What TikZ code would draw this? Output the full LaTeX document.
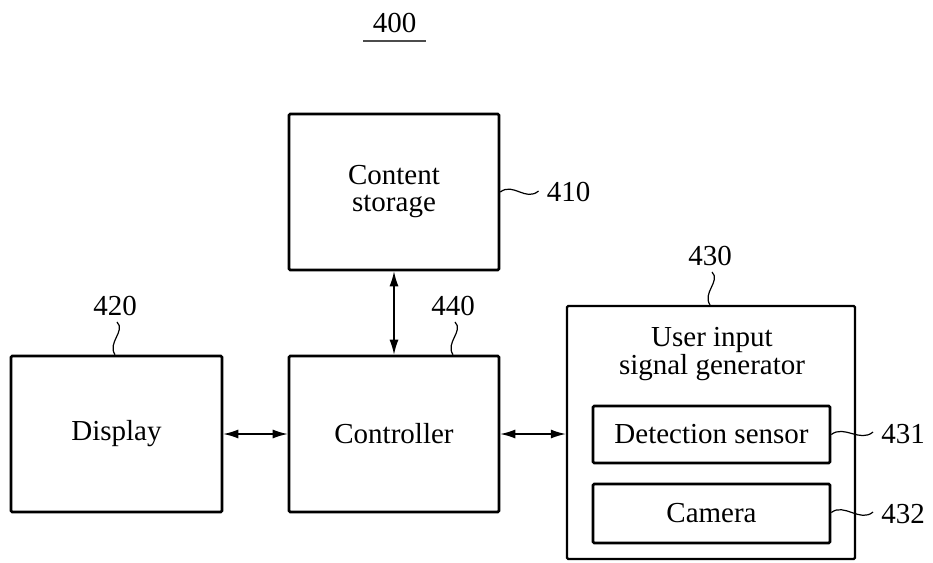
\documentclass[tikz,border=0pt]{standalone}
\usepackage{fontspec}
\setmainfont{Liberation Serif}
\usetikzlibrary{arrows.meta,calc}
\begin{document}
\begin{tikzpicture}[x=1pt,y=-1pt,
  box/.style={draw, line width=2.6pt, rounded corners=1.2pt, inner sep=0pt},
  txt/.style={font=\fontsize{29}{27}\selectfont, align=center},
  lbl/.style={font=\fontsize{29}{29}\selectfont, inner sep=0pt},
  conn/.style={line width=1.4pt, {Latex[length=15pt,width=9pt]}-{Latex[length=15pt,width=9pt]}},
  lead/.style={line width=1.2pt}]
\useasboundingbox (0,0) rectangle (933,562);

% boxes
\node[box, txt, minimum width=210pt, minimum height=156pt] (cs) at (394,192) {Content\\storage};
\node[box, txt, minimum width=211pt, minimum height=156pt] (disp) at (116.5,434) {Display};
\node[box, txt, minimum width=210pt, minimum height=156pt] (ctl) at (394,434) {Controller};
\node[box, line width=2.3pt, minimum width=288pt, minimum height=253pt] (uisg) at (711,432.5) {};
\node[txt, font=\fontsize{29}{28}\selectfont, inner sep=0pt] (uisgt) at (712,354) {User input\\signal generator};
\node[box, txt, minimum width=237pt, minimum height=57pt] (ds) at (711.5,434.5) {Detection sensor};
\node[box, txt, minimum width=237pt, minimum height=59pt] (cam) at (711.5,513.5) {Camera};

% connectors
\draw[conn] (cs.south) -- (ctl.north);
\draw[conn] (disp.east) -- (ctl.west);
\draw[conn] (ctl.east) -- (ctl.east -| uisg.west);

% title
\node[lbl] (l400) at (394.5,23) {400};
\coordinate (u1) at (363,41);
\coordinate (u2) at (426,41);
\draw[line width=1.6pt, black!70] (u1) -- (u2);

% reference labels
\node[lbl] (l410) at (568.5,192) {410};
\node[lbl] (l420) at (115,306) {420};
\node[lbl] (l440) at (453,306) {440};
\node[lbl] (l430) at (710,256) {430};
\node[lbl] (l431) at (903,434) {431};
\node[lbl] (l432) at (903,514) {432};

% leader squiggles
\draw[lead] (cs.east) .. controls +(13,-10) and +(-13,11) .. ($(l410.west)+(-8,-1)$);
\draw[lead] (ds.east) .. controls +(13,-10) and +(-13,11) .. ($(l431.west)+(-8,-2)$);
\draw[lead] ($(cam.east)+(0,-1)$) .. controls +(13,-10) and +(-13,11) .. ($(l432.west)+(-8,-2)$);
\draw[lead] ($(l430.south)+(2,6)$) .. controls +(9,9) and +(-8,-12) .. (l430.south |- uisg.north);
\draw[lead] ($(l420.south)+(2,6)$) .. controls +(9,9) and +(-8,-12) .. (l420.south |- disp.north);
\draw[lead] ($(l440.south)+(2,6)$) .. controls +(9,9) and +(-8,-12) .. (l440.south |- ctl.north);
\end{tikzpicture}
\end{document}
